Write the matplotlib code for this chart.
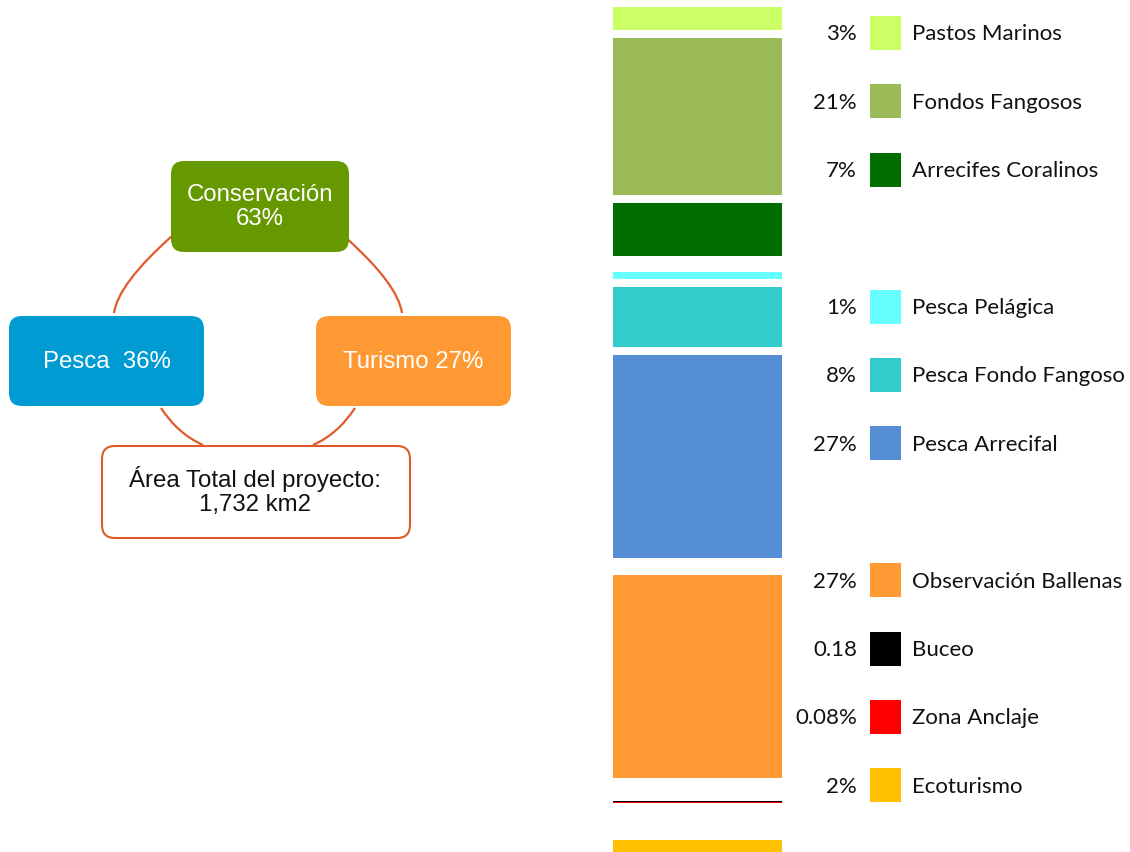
#!/usr/bin/env python3
"""Uso del area del proyecto: diagrama de ciclo + columna apilada por categoria."""

import matplotlib.pyplot as plt
from matplotlib.patches import FancyBboxPatch, PathPatch, Rectangle
from matplotlib.path import Path

# --- datos -----------------------------------------------------------------
CATEGORIES = [
    "Pastos Marinos",
    "Fondos Fangosos",
    "Arrecifes Coralinos",
    "Pesca Pelágica",
    "Pesca Fondo Fangoso",
    "Pesca Arrecifal",
    "Observación Ballenas",
    "Buceo",
    "Zona Anclaje",
    "Ecoturismo",
]
VALUES = [3, 21, 7, 1, 8, 27, 27, 0.18, 0.08, 2]
VALUE_LABELS = ["3%", "21%", "7%", "1%", "8%", "27%", "27%", "0.18", "0.08%", "2%"]
COLORS = [
    "#CCFF66", "#9BBB59", "#006F00", "#66FFFF", "#33CCCC",
    "#558ED5", "#FF9933", "#000000", "#FF0000", "#FFC000",
]

GROUPS = ["Conservación\n63%", "Pesca  36%", "Turismo 27%"]
GROUP_COLORS = ["#669900", "#009BD2", "#FF9933"]
TOTAL_LABEL = "Área Total del proyecto:\n1,732 km2"

# --- layout (pixeles) --------------------------------------------------------
W, H = 1130, 852
PX_PER_PCT = 7.51
BAR_LEFT, BAR_RIGHT = 613, 782
BAR_TOP = 7
GAPS_PX = [0, 8, 8, 16, 8, 8, 17, 23, 0, 37]
LEGEND_SLOTS = [0, 1, 2, 4, 5, 6, 8, 9, 10, 11]
ARC_COLOR = "#E05A2B"

LEGEND_FONT = ["Lato", "DejaVu Sans"]
DIAGRAM_FONT = ["Liberation Sans", "DejaVu Sans"]


def draw_bar(fig) -> None:
  ax = fig.add_axes([BAR_LEFT / W, 0, (BAR_RIGHT - BAR_LEFT) / W, 1])
  bottoms = []
  pos = BAR_TOP / PX_PER_PCT
  for value, gap in zip(VALUES, GAPS_PX):
    pos += gap / PX_PER_PCT
    bottoms.append(pos)
    pos += value
  ax.bar([0] * len(VALUES), VALUES, bottom=bottoms, width=1.0,
         color=COLORS, linewidth=0)
  ax.set_xlim(-0.5, 0.5)
  ax.set_ylim(H / PX_PER_PCT, 0)
  ax.axis("off")


def draw_legend(ax) -> None:
  for slot, label, pct, color in zip(LEGEND_SLOTS, CATEGORIES, VALUE_LABELS, COLORS):
    y = 33 + 68.4 * slot
    ax.text(857, y + 1.5, pct, ha="right", va="center", fontsize=16,
            family=LEGEND_FONT, color="#111111")
    ax.add_patch(Rectangle((870, y - 17), 31, 34, facecolor=color, edgecolor="none"))
    ax.text(912, y + 1.5, label, ha="left", va="center", fontsize=16,
            family=LEGEND_FONT, color="#111111")


def rounded_box(ax, x0, y0, x1, y1, face, edge="none", lw=0.0) -> None:
  ax.add_patch(FancyBboxPatch(
      (x0, y0), x1 - x0, y1 - y0,
      boxstyle="round,pad=0,rounding_size=13",
      facecolor=face, edgecolor=edge, linewidth=lw, zorder=3,
  ))


def arc(ax, start, ctrl, end) -> None:
  path = Path([start, ctrl, end], [Path.MOVETO, Path.CURVE3, Path.CURVE3])
  ax.add_patch(PathPatch(path, facecolor="none", edgecolor=ARC_COLOR,
                         linewidth=1.6, zorder=2))


def draw_cycle(ax) -> None:
  cx = 258
  # arcos (simetricos respecto a cx)
  for side in (-1, 1):
    arc(ax, (cx + side * 86, 236), (cx + side * 140, 284), (cx + side * 144, 313))
    arc(ax, (cx + side * 97, 408), (cx + side * 80, 434), (cx + side * 55, 445))

  boxes = [(171, 161, 349, 252), (9, 316, 204, 406), (316, 316, 511, 406)]
  for (x0, y0, x1, y1), label, color in zip(boxes, GROUPS, GROUP_COLORS):
    rounded_box(ax, x0, y0, x1, y1, color)
    ax.text((x0 + x1) / 2, (y0 + y1) / 2 + 0.5, label, ha="center", va="center",
            fontsize=17.3, family=DIAGRAM_FONT, color="white",
            linespacing=1.12, zorder=4)

  rounded_box(ax, 102, 446, 410, 538, "white", edge=ARC_COLOR, lw=1.5)
  ax.text(255, 491, TOTAL_LABEL, ha="center", va="center", fontsize=17.3,
          family=DIAGRAM_FONT, color="#111111", linespacing=1.12, zorder=4)


def main() -> None:
  fig = plt.figure(figsize=(W / 100, H / 100), dpi=100)
  fig.patch.set_facecolor("white")
  draw_bar(fig)
  ax = fig.add_axes([0, 0, 1, 1], zorder=5)
  ax.set_xlim(0, W)
  ax.set_ylim(H, 0)
  ax.axis("off")
  ax.patch.set_alpha(0)
  draw_legend(ax)
  draw_cycle(ax)
  fig.savefig("out.png", dpi=100, facecolor="white")
  plt.close(fig)


if __name__ == "__main__":
  main()
